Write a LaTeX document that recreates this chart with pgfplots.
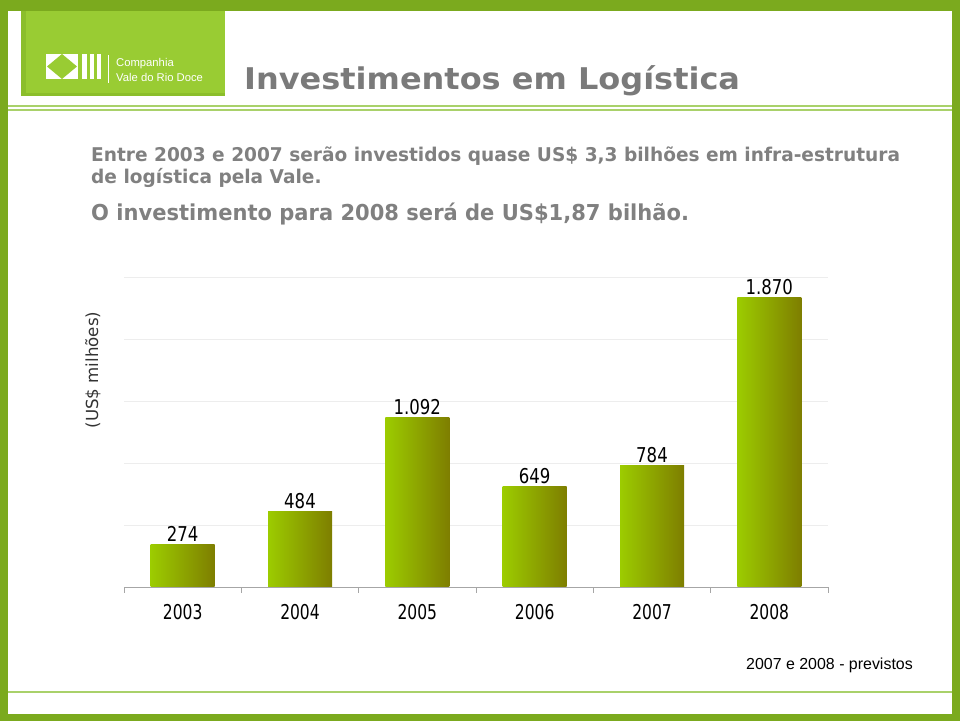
\documentclass[border=0pt]{standalone}
\usepackage{fontspec}
\setmainfont{DejaVu Sans}
\newfontfamily\verdana{DejaVu Sans}
\newfontfamily\titlefont{DejaVu Sans}[FakeStretch=1.07]
\newfontfamily\bodyA{DejaVu Sans}[FakeStretch=0.98]
\newfontfamily\bodyB{DejaVu Sans}[FakeStretch=0.96]
\newfontfamily\tahoma{DejaVu Sans}[FakeStretch=0.76]
\newfontfamily\tahomaL{DejaVu Sans}[FakeStretch=0.81]
\newfontfamily\arial{Liberation Sans}
\usepackage{pgfplots}
\pgfplotsset{compat=1.18}
\definecolor{framegreen}{HTML}{7BAA1E}
\definecolor{hdrgreen}{HTML}{99CC33}
\definecolor{hdrdark}{HTML}{8BBE2B}
\definecolor{linegreen}{HTML}{A9D16A}
\definecolor{barlight}{HTML}{9CCC00}
\definecolor{bardark}{HTML}{7E7E00}
\definecolor{txtgray}{HTML}{808080}
\definecolor{titlegray}{HTML}{7A7A7A}
\begin{document}
\begin{tikzpicture}[x=1bp,y=1bp]
\path (0,0) rectangle (960,727);
% frame
\fill[framegreen] (0,716) rectangle (960,727);
\fill[framegreen] (0,6) rectangle (8,727);
\fill[framegreen] (952,6) rectangle (960,727);
\fill[framegreen] (0,6) rectangle (960,13);
% header block
\fill[hdrgreen] (21,631) rectangle (225,716);
\fill[hdrdark] (21,631) rectangle (26,716);
\fill[hdrdark] (21,631) rectangle (225,634);
% lines
\draw[linegreen, line width=1.5bp] (8,621) -- (952,621);
\draw[linegreen, line width=1.5bp] (8,617) -- (952,617);
\draw[linegreen, line width=1.5bp] (8,35) -- (952,35);
% logo
\fill[white] (46,648) rectangle (78,673);
\fill[hdrgreen] (47,660.5) -- (62,673) -- (77,660.5) -- (62,648) -- cycle;
\fill[white] (82,648) rectangle (87,673);
\fill[white] (90,648) rectangle (94,673);
\fill[white] (97,648) rectangle (101,673);
\draw[white, line width=0.8bp] (108,644) -- (108,672);
\node[anchor=base west, inner sep=0, text=white, font=\arial\fontsize{11.3}{13}\selectfont] at (116,660) {Companhia};
\node[anchor=base west, inner sep=0, text=white, font=\arial\fontsize{11.3}{13}\selectfont] at (116,645) {Vale do Rio Doce};
% title
\node[anchor=base west, inner sep=0, text=titlegray, font=\titlefont\bfseries\fontsize{30}{36}\selectfont] at (244,637) {Investimentos em Logística};
% body text
\node[anchor=base west, inner sep=0, text=txtgray, font=\bodyA\bfseries\fontsize{19}{22}\selectfont] at (91,565) {Entre 2003 e 2007 serão investidos quase US\$ 3,3 bilhões em infra-estrutura};
\node[anchor=base west, inner sep=0, text=txtgray, font=\bodyA\bfseries\fontsize{19}{22}\selectfont] at (91,543) {de logística pela Vale.};
\node[anchor=base west, inner sep=0, text=txtgray, font=\bodyB\bfseries\fontsize{22}{26}\selectfont] at (91,506) {O investimento para 2008 será de US\$1,87 bilhão.};
% y label
\node[rotate=90, inner sep=0, text=black!80, font=\verdana\fontsize{16.7}{19}\selectfont] at (93,357) {(US\$ milhões)};
% footnote
\node[anchor=base west, inner sep=0, text=black, font=\arial\fontsize{16}{19}\selectfont] at (746,57) {2007 e 2008 - previstos};
\begin{axis}[
  at={(124bp,140bp)}, anchor=south west, scale only axis,
  width=704bp, height=310bp,
  xmin=-0.5, xmax=5.5, ymin=0, ymax=2000,
  axis x line*=bottom, axis y line*=left,
  y axis line style={draw=none},
  x axis line style={draw=black!35, line width=0.8bp},
  ytick={0,400,...,2000}, yticklabels={},
  major y tick style={draw=none},
  ymajorgrids, grid style={draw=black!7, line width=0.8bp},
  xtick={0,...,5}, xticklabels={2003,2004,2005,2006,2007,2008},
  major x tick style={draw=none},
  minor xtick={-0.5,0.5,...,5.5},
  minor x tick style={draw=black!35, line width=0.8bp},
  minor tick length=6bp, tick align=outside,
  xticklabel style={font=\tahoma\fontsize{20.5}{24}\selectfont, text=black, yshift=-10bp},
  ybar, bar width=64bp, bar shift=0pt,
  point meta=explicit symbolic,
  nodes near coords,
  every node near coord/.append style={font=\tahomaL\fontsize{20.5}{24}\selectfont, text=black, anchor=south, inner sep=2.5bp},
  clip=false,
]
\addplot[draw=none, left color=barlight, right color=bardark] coordinates {(0,274) [274]};
\addplot[draw=none, left color=barlight, right color=bardark] coordinates {(1,484) [484]};
\addplot[draw=none, left color=barlight, right color=bardark] coordinates {(2,1092) [1.092]};
\addplot[draw=none, left color=barlight, right color=bardark] coordinates {(3,649) [649]};
\addplot[draw=none, left color=barlight, right color=bardark] coordinates {(4,784) [784]};
\addplot[draw=none, left color=barlight, right color=bardark] coordinates {(5,1870) [1.870]};
\end{axis}
\end{tikzpicture}
\end{document}
